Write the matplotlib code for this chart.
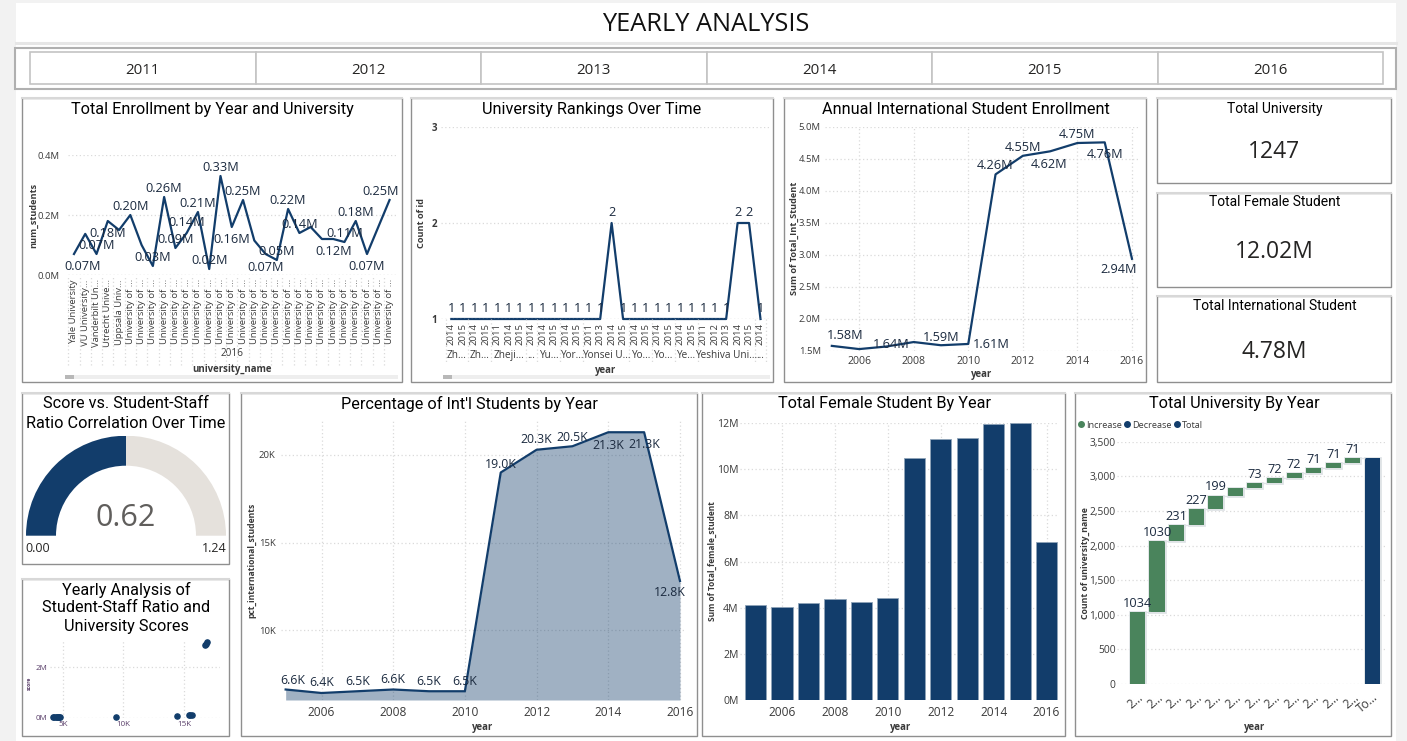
import matplotlib
matplotlib.use("Agg")
import matplotlib.pyplot as plt
import numpy as np
from matplotlib.lines import Line2D
from matplotlib.patches import Rectangle, Wedge

plt.rcParams['font.family'] = ['Open Sans', 'DejaVu Sans']

# data
slicer_years = ['2011', '2012', '2013', '2014', '2015', '2016']
years = list(range(2005, 2017))

uni_names = ['Yale University', 'VU University...', 'Vanderbilt Un...', 'Utrecht Unive...', 'Uppsala Univ...'] + ['University of ...'] * 24
uni_students = [0.07, 0.137, 0.07, 0.18, 0.15, 0.20, 0.10, 0.03, 0.26, 0.09, 0.14, 0.21, 0.02, 0.33, 0.16,
                0.25, 0.115, 0.07, 0.05, 0.22, 0.14, 0.16, 0.12, 0.12, 0.11, 0.18, 0.07, 0.16, 0.25]
uni_label_idx = [0, 2, 3, 5, 7, 8, 9, 10, 11, 12, 13, 14, 15, 17, 18, 19, 20, 23, 24, 25, 26, 28]

rank_years = ['2014', '2015', '2014', '2015', '2011', '2014', '2015', '2014', '2014', '2015', '2014', '2015', '2011', '2013',
              '2014', '2015', '2014', '2015', '2014', '2015', '2014', '2015', '2011', '2012', '2013', '2014', '2015', '2014']
rank_counts = [1, 1, 1, 1, 1, 1, 1, 1, 1, 1, 1, 1, 1, 1, 2, 1, 1, 1, 1, 1, 1, 1, 1, 1, 1, 2, 2, 1]
rank_groups = ['Zh...', 'Zh...', 'Zheji...', '...', 'Yu...', 'Yor...', 'Yonsei U...', 'Yo...', 'Yo...', 'Ye...', 'Yeshiva Uni...', '...']
rank_group_sizes = [2, 2, 3, 1, 2, 2, 4, 2, 2, 2, 5, 1]

intl_students = [1.58, 1.53, 1.57, 1.64, 1.59, 1.61, 4.26, 4.55, 4.62, 4.75, 4.76, 2.94]
intl_label_idx = [0, 3, 4, 5, 6, 7, 8, 9, 10, 11]

pct_intl = [6.6, 6.4, 6.5, 6.6, 6.5, 6.5, 19.0, 20.3, 20.5, 21.3, 21.3, 12.8]

female_students = [4.12, 4.03, 4.19, 4.37, 4.23, 4.40, 10.47, 11.3, 11.35, 11.95, 11.99, 6.84]

wf_labels = ['2...'] * 12 + ['To...']
wf_steps = [1034, 1030, 231, 227, 199, 107, 73, 72, 72, 71, 71, 71]
wf_label_idx = [0, 1, 2, 3, 4, 6, 7, 8, 9, 10, 11]

gauge_value = 0.62
gauge_max = 1.24

scatter_ratio = [4.17, 4.3, 4.4, 4.5, 4.6, 4.7, 4.78, 9.35, 14.4, 15.4, 15.5, 15.7, 16.7, 16.8, 16.9]
scatter_score = [0.02, 0.02, 0.02, 0.02, 0.02, 0.02, 0.02, 0.04, 0.07, 0.12, 0.12, 0.12, 2.87, 2.92, 2.97]

kpi_titles = ['Total University', 'Total Female Student', 'Total International Student']
kpi_values = ['1247', '12.02M', '4.78M']

NAVY = '#123d6b'
GREEN = '#4a845c'
TEXT = '#252423'
LABEL = '#1b2a3f'
TICK = '#3a3a3a'
GRID = '#dadada'
DOT = (0, (1, 2))
TITLE_FONT = ['Roboto', 'DejaVu Sans']

W, H = 1407, 741
fig = plt.figure(figsize=(W / 100, H / 100), dpi=100, facecolor='#f2f2f2')

# background layer in pixel coordinates
bg = fig.add_axes([0, 0, 1, 1], zorder=0)
bg.set_xlim(0, W)
bg.set_ylim(H, 0)
bg.axis('off')
bg.add_patch(Rectangle((16, 3), 1380, H - 3, fc='white', ec='none'))
bg.plot([16, 1396], [43, 43], color='#e6e6e6', lw=2.2)


def txt(x, y, s, **kw):
    # open sans sits a bit high with va=center
    return bg.text(x, y + 1.5, s, ha='center', va='center', **kw)


def box_px(x0, y0, x1, y1):
    bg.add_patch(Rectangle((x0, y0), x1 - x0, y1 - y0, fc='white', ec='#8f8f8f', lw=1))
    bg.plot([x0, x1], [y0, y0], color='#d8d8d8', lw=1.5)


def axes_px(x0, y0, x1, y1):
    ax = fig.add_axes([x0 / W, 1 - y1 / H, (x1 - x0) / W, (y1 - y0) / H], zorder=2)
    ax.patch.set_alpha(0)
    for s in ax.spines.values():
        s.set_visible(False)
    ax.tick_params(length=0, colors=TICK)
    ax.set_axisbelow(True)
    return ax


def grid(ax, axis='both'):
    ax.grid(True, axis=axis, color=GRID, ls=DOT, lw=0.9)


def panel_title(x, y, s, size=11.7):
    txt(x, y, s, family=TITLE_FONT, fontsize=size, color='#000000')


def xtitle(x, y, s, size=6.9):
    txt(x, y, s, fontsize=size, fontweight='bold', color=TICK)


def ytitle(x, y, s, size=6.3):
    bg.text(x + 1, y, s, ha='center', va='center', rotation=90, fontsize=size, fontweight='bold', color=TICK)


def scrollbar(x0, x1):
    bg.add_patch(Rectangle((x0, 375), x1 - x0, 4, fc='#eeeeee', ec='none'))
    bg.add_patch(Rectangle((x0, 375), 9, 4, fc='#b8b8b8', ec='none'))


def put_label(ax, x, y, s, dx, dy, size=9.2):
    ax.annotate(s, (x, y), xytext=(dx, dy - 1), textcoords='offset pixels', ha='center', va='center',
                fontsize=size, color=LABEL, annotation_clip=False, zorder=5)


# header and slicer
txt(706, 23, 'YEARLY ANALYSIS', fontsize=18.3, color='#111111')
bg.add_patch(Rectangle((15, 48), 1381, 41, fc='white', ec='#b0b0b0', lw=1.5))
slicer_edges = np.linspace(30, 1383, len(slicer_years) + 1)
for i, yr in enumerate(slicer_years):
    bg.add_patch(Rectangle((slicer_edges[i], 52), slicer_edges[i + 1] - slicer_edges[i], 32,
                           fc='white', ec='#c4c4c4', lw=1.2))
    txt((slicer_edges[i] + slicer_edges[i + 1]) / 2, 68.5, yr, fontsize=10.8, color=TEXT)

# panel frames
box_px(22, 98, 402, 382)
box_px(411, 98, 773, 382)
box_px(784, 98, 1146, 382)
box_px(1157, 98, 1391, 183)
box_px(1157, 193, 1391, 287)
box_px(1157, 296, 1391, 382)
box_px(22, 393, 229, 564)
box_px(22, 579, 229, 736)
box_px(241, 393, 697, 736)
box_px(702, 393, 1065, 736)
box_px(1075, 393, 1391, 736)

# enrollment by university
panel_title(212, 108, 'Total Enrollment by Year and University')
ax = axes_px(68, 155, 398, 275)
x = np.arange(len(uni_students))
ax.plot(x, uni_students, color=NAVY, lw=1.6, clip_on=False)
ax.set_xlim(-0.53, 28.75)
ax.set_ylim(0, 0.4)
ax.set_yticks([0, 0.2, 0.4], ['0.0M', '0.2M', '0.4M'], fontsize=6.8)
ax.tick_params(axis='y', pad=6)
ax.set_xticks(x, uni_names, rotation=90, fontsize=6.8)
ax.tick_params(axis='x', pad=3)
grid(ax, 'y')
ax.hlines(0, -0.53, 28.75, color=GRID, ls=DOT, lw=0.9)
ax.vlines(x - 0.5, -0.3, 0, color=GRID, ls=DOT, lw=0.9, clip_on=False)
uni_offsets = [(9, -11), (0, 10), (0, -11), (0, 10), (0, 10), (0, 10), (0, 10), (0, 11), (0, 10), (0, 10), (0, 10),
               (0, -11), (0, 10), (0, -12), (0, 10), (0, 10), (0, 10), (0, -11), (0, 10), (0, 10), (0, -11), (-9, 10)]
for i, (dx, dy) in zip(uni_label_idx, uni_offsets):
    put_label(ax, i, uni_students[i], f'{uni_students[i]:.2f}M', dx, dy)
txt(232, 352, '2016', fontsize=7.2, color=TICK)
xtitle(232, 368, 'university_name')
ytitle(33, 215, 'num_students', 6.6)
scrollbar(65, 398)

# rankings
panel_title(592, 108, 'University Rankings Over Time')
ax = axes_px(441, 127, 770, 319)
x = np.arange(len(rank_counts))
ax.plot(x, rank_counts, color=NAVY, lw=1.6, clip_on=False)
ax.set_xlim(-0.9, 27.83)
ax.set_ylim(1, 3)
ax.set_yticks([1, 2, 3], ['1', '2', '3'], fontsize=7, fontweight='bold')
ax.tick_params(axis='y', pad=3)
ax.set_xticks(x, rank_years, rotation=90, fontsize=6.8)
ax.tick_params(axis='x', pad=3)
grid(ax, 'y')
ax.hlines(1, -0.9, 27.83, color=GRID, ls=DOT, lw=0.9)
for i, v in enumerate(rank_counts):
    put_label(ax, i, v, str(v), 0, 11)
start = 0
for name, size in zip(rank_groups, rank_group_sizes):
    center = start + (size - 1) / 2
    ax.annotate(name, (center, 1), xytext=(0, -37), textcoords='offset pixels', ha='center', va='center',
                fontsize=7.2, color=TICK, annotation_clip=False)
    ax.plot([start - 0.5, start - 0.5], [1, 1 - 43 / 96], color=GRID, ls=DOT, lw=0.9, clip_on=False)
    start += size
ax.plot([start - 0.5, start - 0.5], [1, 1 - 43 / 96], color=GRID, ls=DOT, lw=0.9, clip_on=False)
xtitle(606, 369, 'year')
ytitle(421, 223, 'Count of id', 6.6)
scrollbar(443, 770)

# international enrollment
panel_title(966, 108, 'Annual International Student Enrollment')
ax = axes_px(825, 127, 1138, 351)
ax.plot(years, intl_students, color=NAVY, lw=1.6, clip_on=False)
ax.set_xlim(2004.75, 2016.22)
ax.set_ylim(1.5, 5)
ax.set_yticks(np.arange(1.5, 5.01, 0.5), [f'{v:.1f}M' for v in np.arange(1.5, 5.01, 0.5)], fontsize=6.8)
ax.tick_params(axis='y', pad=3)
ax.set_xticks(years[1::2], [str(y) for y in years[1::2]], fontsize=7.6)
ax.tick_params(axis='x', pad=3.5)
grid(ax)
intl_offsets = [(13, 11), (-22, -1), (0, 9), (23, 0), (0, 10), (0, 9), (-1, -12), (0, 10), (0, -11), (-13, -10)]
for i, (dx, dy) in zip(intl_label_idx, intl_offsets):
    put_label(ax, years[i], intl_students[i], f'{intl_students[i]:.2f}M', dx, dy)
xtitle(982, 373, 'year')
ytitle(793, 238, 'Sum of Total_Int_Student', 6.6)

# KPI cards
kpi_title_y = [107, 201, 304]
kpi_value_y = [151, 251, 350]
for t, v, ty, vy in zip(kpi_titles, kpi_values, kpi_title_y, kpi_value_y):
    txt(1275, ty, t, family=TITLE_FONT, fontsize=10, color='#000000')
    txt(1274, vy, v, fontsize=16.5, color=TEXT)

# gauge
panel_title(126, 402, 'Score vs. Student-Staff')
panel_title(126, 422, 'Ratio Correlation Over Time')
ax = axes_px(26, 435.7, 226, 535.7)
ax.set_xlim(-1, 1)
ax.set_ylim(0, 1)
ax.axis('off')
split = 180 - 180 * gauge_value / gauge_max
ax.add_patch(Wedge((0, 0), 1, split, 180, width=0.3, fc=NAVY, ec='none'))
ax.add_patch(Wedge((0, 0), 1, 0, split, width=0.3, fc='#e5e1dc', ec='none'))
txt(126, 517, f'{gauge_value:.2f}', fontsize=22, color='#605e5c')
txt(38, 547, '0.00', fontsize=9, color=TEXT)
txt(214, 547, f'{gauge_max:.2f}', fontsize=9, color=TEXT)

# scatter
panel_title(126, 588, 'Yearly Analysis of')
panel_title(126, 606, 'Student-Staff Ratio and')
panel_title(126, 625, 'University Scores')
ax = axes_px(50, 640, 220, 718)
ax.scatter(scatter_ratio, scatter_score, s=14, color=NAVY, clip_on=False, zorder=3)
ax.set_xlim(3.93, 17.98)
ax.set_ylim(0, 3.06)
ax.set_xticks([5, 10, 15], ['5K', '10K', '15K'], fontsize=5.8)
ax.set_yticks([0, 2], ['0M', '2M'], fontsize=5.8)
ax.tick_params(axis='both', pad=2, labelcolor='#5a3f6a')
grid(ax)
bg.text(29, 683, 'score', ha='center', va='center', rotation=90, fontsize=3.6, color='#5a3f6a', fontweight='bold')

# share of international students
panel_title(469, 402, "Percentage of Int'l Students by Year")
ax = axes_px(281, 420, 685, 700)
ax.fill_between(years, pct_intl, 6.0, color=NAVY, alpha=0.4, lw=0)
ax.plot(years, pct_intl, color=NAVY, lw=1.6)
ax.set_xlim(2004.87, 2016.14)
ax.set_ylim(6.0, 22.0)
ax.set_yticks([10, 15, 20], ['10K', '15K', '20K'], fontsize=6.8)
ax.tick_params(axis='y', pad=4)
ax.set_xticks(years[1::2], [str(y) for y in years[1::2]], fontsize=8.6)
ax.tick_params(axis='x', pad=4)
grid(ax)
pct_offsets = [(7, 10), (0, 11), (0, 11), (0, 11), (0, 11), (0, 11), (0, 9), (0, 11), (0, 10), (0, -12), (0, -11), (-10, -11)]
for i, (dx, dy) in enumerate(pct_offsets):
    put_label(ax, years[i], pct_intl[i], f'{pct_intl[i]:.1f}K', dx, dy, 8.8)
xtitle(483, 726, 'year')
ytitle(251, 560, 'pct_international_students', 6.2)

# female students
panel_title(884, 402, 'Total Female Student By Year')
ax = axes_px(740, 423, 1058, 700)
ax.bar(years, female_students, width=0.8, color=NAVY, edgecolor='#8fa3b8', lw=0.6)
ax.set_xlim(2004.41, 2016.43)
ax.set_ylim(0, 12)
ax.set_yticks(range(0, 13, 2), [f'{v}M' for v in range(0, 13, 2)], fontsize=7.6)
ax.tick_params(axis='y', pad=1)
ax.set_xticks(years[1::2], [str(y) for y in years[1::2]], fontsize=8.6)
ax.tick_params(axis='x', pad=4)
grid(ax)
xtitle(901, 726, 'year')
ytitle(711, 561, 'Sum of Total_female_student', 6.0)

# waterfall
panel_title(1234, 402, 'Total University By Year')
ax = axes_px(1117, 441.7, 1387, 684)
x = np.arange(len(wf_labels))
tops = np.cumsum(wf_steps)
bottoms = tops - np.array(wf_steps)
ax.bar(x[:-1], wf_steps, bottom=bottoms, width=0.77, color='#dfe3e6', edgecolor='#dfe3e6', lw=2)
ax.bar(x[-1], tops[-1], width=0.77, color='#dfe3e6', edgecolor='#dfe3e6', lw=2)
ax.bar(x[:-1], wf_steps, bottom=bottoms, width=0.77, color=GREEN)
ax.bar(x[-1], tops[-1], width=0.77, color=NAVY)
ax.hlines(tops, x[:-1] + 0.38, x[1:] - 0.38, color='#dfe3e6', lw=1)
ax.set_xlim(-1.04, 12.74)
ax.set_ylim(0, 3500)
ax.set_yticks(range(0, 3501, 500), [f'{v:,}' for v in range(0, 3501, 500)], fontsize=7.4)
ax.tick_params(axis='y', pad=1)
ax.set_xticks(x, wf_labels, rotation=40, ha='right', rotation_mode='anchor', fontsize=8.6)
ax.tick_params(axis='x', pad=5)
grid(ax, 'y')
for i in wf_label_idx:
    put_label(ax, i, tops[i], str(wf_steps[i]), 0, 10)
handles = [Line2D([], [], ls='', marker='o', ms=4, color=GREEN),
           Line2D([], [], ls='', marker='o', ms=4, color=NAVY),
           Line2D([], [], ls='', marker='o', ms=4, color=NAVY)]
fig.legend(handles, ['Increase', 'Decrease', 'Total'], loc='center left', bbox_to_anchor=(1072 / W, 1 - 425 / H),
           ncol=3, frameon=False, fontsize=6.6, handletextpad=0.05, columnspacing=0.05, handlelength=1.0, borderpad=0, labelcolor=TICK)
xtitle(1255, 726, 'year')
ytitle(1084, 563, 'Count of university_name')

fig.savefig('out.png', dpi=100, facecolor=fig.get_facecolor())
